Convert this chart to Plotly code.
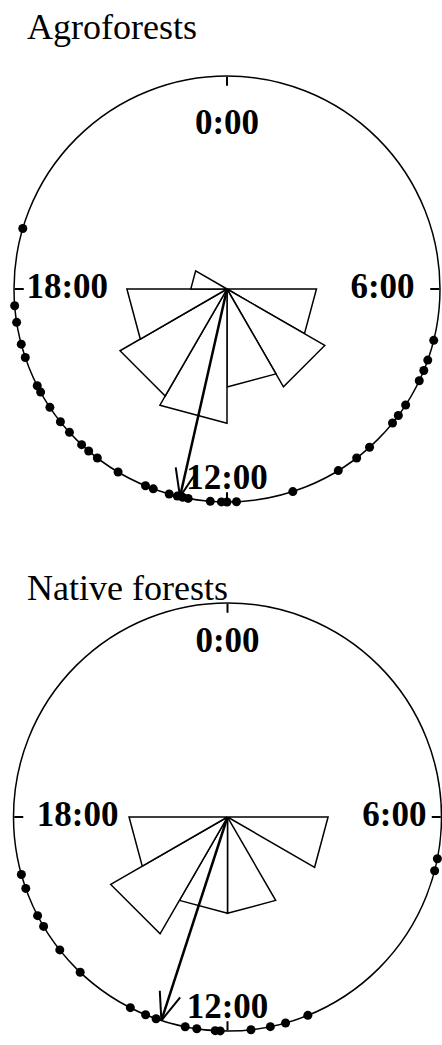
import numpy as np
import plotly.graph_objects as go

# ---- data (clock hours) ----
bin_start_hours = [0, 2, 4, 6, 8, 10, 12, 14, 16, 18, 20, 22]

# Agroforests
agro_hours = [19.1, 17.7, 17.4, 17.0, 16.75, 16.2, 16.07, 15.75, 15.43, 15.18,
              14.87, 14.7, 14.5, 14.05, 13.5, 13.35, 13.05, 12.9, 12.8, 12.7,
              12.3, 12.1, 12.0, 11.83, 10.8, 9.9, 9.5, 9.2, 8.6, 8.43, 8.2,
              7.7, 7.5, 7.3, 6.93]
agro_hours_stacked = [12.3, 11.83, 9.15]
agro_petals = [0, 0, 0, 0.42, 0.53, 0.46, 0.63, 0.58, 0.47, 0.17, 0, 0]
agro_mean_hour = 12.85

# Native forests
native_hours = [16.96, 16.7, 16.17, 15.95, 15.44, 14.9, 13.8, 13.5, 13.3,
                12.76, 12.55, 12.22, 12.13, 11.58, 11.23, 10.95, 10.53,
                6.97, 6.75]
native_hours_stacked = []
native_petals = [0, 0, 0, 0.47, 0, 0.45, 0.45, 0.63, 0.46, 0, 0, 0]
native_mean_hour = 13.2

clock_labels = ["0:00", "6:00", "12:00", "18:00"]
clock_label_hours = [0, 6, 12, 18]

W, H = 442, 1045
FONT = "Liberation Serif"


def px_domain(cx, cy, r):
    return dict(x=[(cx - r) / W, (cx + r) / W],
                y=[1 - (cy + r) / H, 1 - (cy - r) / H])


def add_panel(fig, subplot, hours, stacked, petals, mean_hour, label_r):
    # rose petals (straight-edged sectors)
    for start, length in zip(bin_start_hours, petals):
        if length <= 0:
            continue
        a0 = start * 15
        fig.add_trace(go.Scatterpolar(
            r=[0, length, length, 0], theta=[a0, a0, a0 + 30, a0],
            mode="lines", fill="toself", fillcolor="white",
            line=dict(color="black", width=1.5),
            subplot=subplot, showlegend=False, hoverinfo="skip"))

    # mean vector arrow
    m = np.radians(mean_hour * 15)
    fig.add_trace(go.Scatterpolar(
        r=[0, 1], theta=[0, mean_hour * 15], mode="lines",
        line=dict(color="black", width=2.5),
        subplot=subplot, showlegend=False, hoverinfo="skip"))
    tip = np.array([np.sin(m), np.cos(m)])
    d = tip / np.linalg.norm(tip)
    perp = np.array([d[1], -d[0]])
    br, bt = [], []
    for s in (1, -1):
        p = tip - 0.13 * d + s * 0.05 * perp
        br += [1, np.hypot(*p), None]
        bt += [mean_hour * 15, np.degrees(np.arctan2(p[0], p[1])), None]
    fig.add_trace(go.Scatterpolar(
        r=br, theta=bt, mode="lines", line=dict(color="black", width=2),
        subplot=subplot, showlegend=False, hoverinfo="skip"))

    # observations on the circle
    fig.add_trace(go.Scatterpolar(
        r=[1] * len(hours), theta=[h * 15 for h in hours], mode="markers",
        marker=dict(color="black", size=9), cliponaxis=False,
        subplot=subplot, showlegend=False))
    if stacked:
        fig.add_trace(go.Scatterpolar(
            r=[1.06] * len(stacked), theta=[h * 15 for h in stacked],
            mode="markers", marker=dict(color="black", size=9),
            cliponaxis=False, subplot=subplot, showlegend=False))

    # clock labels inside the circle
    fig.add_trace(go.Scatterpolar(
        r=label_r, theta=[h * 15 for h in clock_label_hours],
        mode="text", text=["<b>%s</b>" % t for t in clock_labels],
        textfont=dict(family=FONT, size=35, color="black"),
        cliponaxis=False, subplot=subplot, showlegend=False,
        hoverinfo="skip"))


fig = go.Figure()
add_panel(fig, "polar", agro_hours, agro_hours_stacked, agro_petals,
          agro_mean_hour, [0.77, 0.73, 0.90, 0.75])
add_panel(fig, "polar2", native_hours, native_hours_stacked, native_petals,
          native_mean_hour, [0.81, 0.78, 0.90, 0.70])

axis_style = dict(
    angularaxis=dict(rotation=90, direction="clockwise",
                     tickvals=[0, 90, 180, 270], ticks="inside", ticklen=9,
                     tickwidth=1.5, tickcolor="black", showticklabels=False,
                     showgrid=False, showline=True, linecolor="black",
                     linewidth=1.5),
    radialaxis=dict(range=[0, 1], visible=False),
    bgcolor="white",
)

fig.update_layout(
    width=W, height=H,
    margin=dict(l=0, r=0, t=0, b=0),
    paper_bgcolor="white", plot_bgcolor="white",
    polar=dict(domain=px_domain(227, 289, 213), **axis_style),
    polar2=dict(domain=px_domain(227.5, 817, 214), **axis_style),
    annotations=[
        dict(text="Agroforests", x=25 / W, y=1 - 27 / H,
             xref="paper", yref="paper", xanchor="left", yanchor="middle",
             showarrow=False, font=dict(family=FONT, size=36, color="black")),
        dict(text="Native forests", x=25 / W, y=1 - 588 / H,
             xref="paper", yref="paper", xanchor="left", yanchor="middle",
             showarrow=False, font=dict(family=FONT, size=36, color="black")),
    ],
)

# drop the browser's default 8px body margin so the figure fills the window
fig.write_html("out.html",
               config={"displayModeBar": False},
               post_script="document.body.style.margin='0';"
                           "document.body.style.overflow='hidden';")
